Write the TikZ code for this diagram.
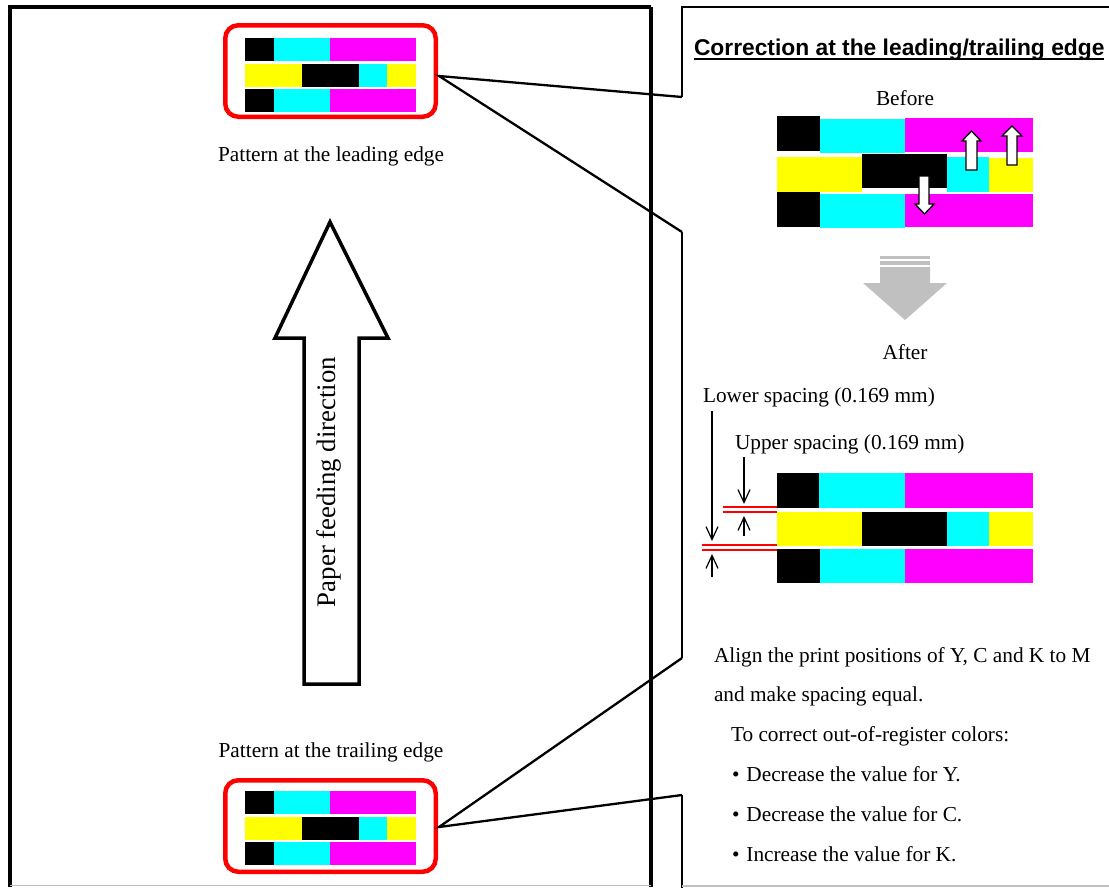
\documentclass[tikz,border=0pt]{standalone}
\usepackage{fontspec}
\setmainfont{Liberation Serif}
\newfontfamily\titlefont{Liberation Sans}
\usetikzlibrary{arrows.meta}
\definecolor{cc}{HTML}{00FFFF}
\definecolor{mm}{HTML}{FF00FF}
\definecolor{yy}{HTML}{FFFF00}
\definecolor{gg}{HTML}{C0C0C0}
\newcommand\smallpat[2]{%
 \begin{scope}[shift={(#1,#2)}]
  \fill[black] (0,0) rectangle (29,23);
  \fill[cc] (29,0) rectangle (85,23);
  \fill[mm] (85,0) rectangle (171,23);
  \fill[yy] (0,26) rectangle (57,49);
  \fill[black] (57,26) rectangle (114,49);
  \fill[cc] (114,26) rectangle (142,49);
  \fill[yy] (142,26) rectangle (171,49);
  \fill[black] (0,51) rectangle (29,74);
  \fill[cc] (29,51) rectangle (85,74);
  \fill[mm] (85,51) rectangle (171,74);
 \end{scope}}
\begin{document}
\begin{tikzpicture}[x=1pt,y=-1pt,
  every node/.style={inner sep=0pt,outer sep=0pt},
  txt/.style={font=\fontsize{21.3}{25}\selectfont},
  patbox/.style={draw=red,line width=4.5pt,rounded corners=13pt,minimum width=210.5pt,minimum height=91.5pt},
  callout/.style={line width=2.3pt,line join=miter},
  blockarrow/.style={draw=black,fill=white,line width=1.3pt,line join=miter},
  spacearrow/.style={line width=1.2pt,-{Straight Barb[length=13pt,width=12pt,line width=1.2pt]}},
  redline/.style={draw=red,line width=1.8pt}]
\useasboundingbox (0,0) rectangle (1109,887);

% left frame
\draw[line width=4pt] (10,887) -- (10,7) -- (651,7);
\draw[line width=3.5pt] (651,7) -- (651,887);
\draw[gg,line width=1.5pt] (10,885.5) -- (651,885.5);

% pattern boxes
\node[patbox] (topbox) at (330.5,71) {};
\smallpat{245}{38}
\node[patbox] (botbox) at (330.5,826) {};
\smallpat{245}{791}

\node[txt,anchor=base] (leadlbl) at (331,161) {Pattern at the leading edge};
\node[txt,anchor=base] (traillbl) at (331,757) {Pattern at the trailing edge};

% big arrow
\draw[line width=3.5pt,line join=miter] (330,222) -- (388,338) -- (359,338) -- (359,684) -- (304,684) -- (304,338) -- (275,338) -- cycle;
\node[rotate=90,font=\fontsize{26.8}{30}\selectfont] (feed) at (329,482) {Paper feeding direction};

% callout
\coordinate (c1) at (682,97);
\coordinate (c2) at (682,232);
\coordinate (c3) at (682,658);
\coordinate (c4) at (682,795);
\coordinate (ct) at (682,7);
\coordinate (ctr) at (1112,7);
\coordinate (cb) at (682,890);
\coordinate (apt) at (439,76);
\coordinate (apb) at (439,827);
\draw[callout] (c1) -- (apt) -- (c2);
\draw[callout] (c3) -- (apb) -- (c4);
\draw[line width=2pt] (c1) -- (ct) -- (ctr);
\draw[line width=2pt] (c2) -- (c3);
\draw[line width=2pt] (c4) -- (cb);
\draw[gg,line width=1.5pt] (682,886) -- (1109,886);

% title
\node[anchor=base west,font=\titlefont\bfseries\fontsize{22.8}{27}\selectfont] (title) at (694,55) {Correction at the leading/trailing edge};
\draw[line width=2pt] ([yshift=-3.5pt]title.base west) -- ([yshift=-3.5pt]title.base east);

% before
\node[txt,anchor=base] (before) at (905,105) {Before};
\fill[black] (777,116) rectangle (820,151);
\fill[cc] (820,119) rectangle (905,153);
\fill[mm] (905,118) rectangle (1033,152);
\fill[yy] (777,157) rectangle (862,192);
\fill[black] (862,154) rectangle (947,188);
\fill[cc] (947,157) rectangle (989,192);
\fill[yy] (989,158) rectangle (1033,192);
\fill[black] (777,192) rectangle (820,227);
\fill[cc] (820,194) rectangle (905,228);
\fill[mm] (905,194) rectangle (1033,227);
\draw[blockarrow] (919,176) -- (929,176) -- (929,204) -- (934,204) -- (924.5,214) -- (915,204) -- (919,204) -- cycle;
\draw[blockarrow] (971.5,131) -- (981,141) -- (977,141) -- (977,170) -- (966,170) -- (966,141) -- (962,141) -- cycle;
\draw[blockarrow] (1012,126) -- (1022,136) -- (1017,136) -- (1017,165) -- (1007,165) -- (1007,136) -- (1002,136) -- cycle;

% gray arrow
\fill[gg] (880,256) rectangle (930,258.5);
\fill[gg] (880,260.5) rectangle (930,265);
\fill[gg] (880,267) -- (930,267) -- (930,283) -- (947,283) -- (905,320) -- (863,283) -- (880,283) -- cycle;

\node[txt,anchor=base] (after) at (905,359) {After};

% after
\node[txt,anchor=base west] (lower) at (703,402) {Lower spacing (0.169 mm)};
\node[txt,anchor=base west] (upper) at (735,449) {Upper spacing (0.169 mm)};
\begin{scope}[shift={(777,473)}]
  \fill[black] (0,0) rectangle (42,35);
  \fill[cc] (42,0) rectangle (128,35);
  \fill[mm] (128,0) rectangle (256,35);
  \fill[yy] (0,39) rectangle (85,73);
  \fill[black] (85,39) rectangle (170,73);
  \fill[cc] (170,39) rectangle (212,73);
  \fill[yy] (212,39) rectangle (256,73);
  \fill[black] (0,76) rectangle (43,110);
  \fill[cc] (43,76) rectangle (128,110);
  \fill[mm] (128,76) rectangle (256,110);
\end{scope}
\draw[redline] (723,507.2) -- (777,507.2);
\draw[redline] (723,511.8) -- (777,511.8);
\draw[redline] (702,545.2) -- (777,545.2);
\draw[redline] (702,549.8) -- (777,549.8);

\coordinate (la1) at (712,411);
\coordinate (la2) at (712,541);
\coordinate (lb1) at (712,577);
\coordinate (lb2) at (712,554);
\coordinate (ua1) at (744,457);
\coordinate (ua2) at (744,504);
\coordinate (ub1) at (744,536);
\coordinate (ub2) at (744,516);
\draw[spacearrow] (la1) -- (la2);
\draw[spacearrow] (lb1) -- (lb2);
\draw[spacearrow] (ua1) -- (ua2);
\draw[spacearrow] (ub1) -- (ub2);

% instructions
\node[txt,anchor=base west] (t1) at (714,662) {Align the print positions of Y, C and K to M};
\node[txt,anchor=base west] (t2) at (714,701) {and make spacing equal.};
\node[txt,anchor=base west] (t3) at (731,741) {To correct out-of-register colors:};
\node[txt,anchor=base west] (b1) at (732,781) {•\hspace{7pt}Decrease the value for Y.};
\node[txt,anchor=base west] (b2) at (732,821) {•\hspace{7pt}Decrease the value for C.};
\node[txt,anchor=base west] (b3) at (732,861) {•\hspace{7pt}Increase the value for K.};
\end{tikzpicture}
\end{document}
